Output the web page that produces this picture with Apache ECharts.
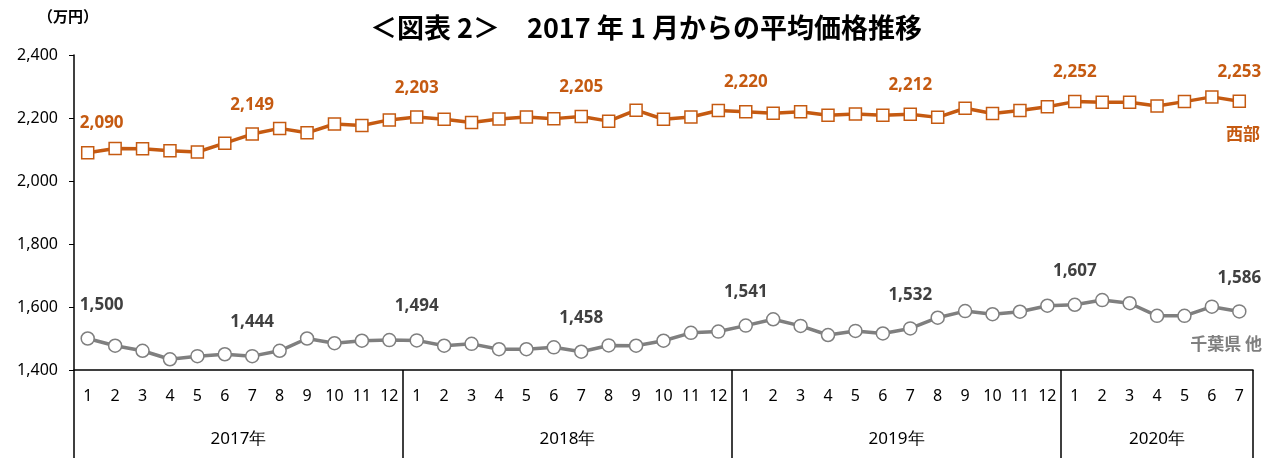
<!DOCTYPE html>
<html>
<head>
<meta charset="utf-8">
<script src="https://cdn.jsdelivr.net/npm/echarts@6/dist/echarts.min.js"></script>
<style>
  html, body { margin: 0; padding: 0; background: #fff; }
  #chart { width: 1288px; height: 458px; }
</style>
</head>
<body>
<div id="chart"></div>
<script>
// 月 (2017年1月〜2020年7月)
var months = [1,2,3,4,5,6,7,8,9,10,11,12, 1,2,3,4,5,6,7,8,9,10,11,12,
              1,2,3,4,5,6,7,8,9,10,11,12, 1,2,3,4,5,6,7];
var years = ['2017年', '2018年', '2019年', '2020年'];
var yearCounts = [12, 12, 12, 7];

// 西部
var seibu = [2090,2103,2102,2096,2092,2120,2149,2167,2153,2181,2176,2194,
             2203,2196,2186,2197,2203,2198,2205,2190,2225,2196,2203,2224,
             2220,2215,2220,2209,2213,2209,2212,2202,2231,2214,2224,2236,
             2252,2250,2250,2238,2252,2267,2253];
// 千葉県 他
var chiba = [1500,1477,1461,1434,1444,1450,1444,1461,1500,1485,1493,1495,
             1494,1477,1483,1466,1466,1472,1458,1478,1477,1493,1518,1522,
             1541,1561,1540,1511,1524,1516,1532,1566,1587,1577,1585,1604,
             1607,1622,1612,1572,1572,1601,1586];

var yTicks = [1400, 1600, 1800, 2000, 2200, 2400];

var orange = '#C55A11';
var gray = '#7F7F7F';

// 年の境界と中央位置
var bounds = [0], mids = [];
yearCounts.forEach(function (n, i) {
    mids.push(bounds[i] + n / 2);
    bounds.push(bounds[i] + n);
});

function fmt(v) {
    return String(v).replace(/\B(?=(\d{3})+(?!\d))/g, ',');
}

function withLabels(arr) {
    return arr.map(function (v, i) {
        if (i % 6 !== 0) return v;
        return {
            value: v,
            label: {
                show: true,
                offset: i === 0 ? [14, 0] : [0, 0]
            }
        };
    });
}

var chart = echarts.init(document.getElementById('chart'));

var option = {
    animation: false,
    textStyle: { fontFamily: 'Noto Sans' },
    title: {
        text: '＜図表 2＞　2017 年 1 月からの平均価格推移',
        left: 641,
        top: 9,
        textAlign: 'center',
        textStyle: {
            fontFamily: 'Noto Sans CJK JP',
            fontSize: 27,
            fontWeight: 'bold',
            color: '#000'
        }
    },
    graphic: [
        { type: 'text', left: 38, top: 9,
          style: { text: '（万円）', fontFamily: 'Noto Sans CJK JP', fontSize: 15, fontWeight: 'bold', fill: '#000' } },
        { type: 'text', right: 28, top: 125,
          style: { text: '西部', fontFamily: 'Noto Sans CJK JP', fontSize: 17, fontWeight: 'bold', fill: orange } },
        { type: 'text', right: 26, top: 335,
          style: { text: '千葉県 他', fontFamily: 'Noto Sans CJK JP', fontSize: 17, fontWeight: 'bold', fill: gray } }
    ],
    grid: {
        left: 74,
        right: 35,
        top: 55,
        bottom: 88
    },
    xAxis: [{
        type: 'category',
        data: months,
        boundaryGap: true,
        axisLine: { lineStyle: { color: '#000', width: 1.5 } },
        axisTick: { show: false },
        axisLabel: {
            interval: 0,
            color: '#000',
            fontSize: 16,
            margin: 18
        }
    }, {
        type: 'value',
        min: 0,
        max: bounds[bounds.length - 1],
        position: 'bottom',
        axisLine: { show: false },
        splitLine: { show: false },
        axisTick: {
            show: true,
            customValues: bounds,
            length: 88,
            lineStyle: { color: '#000', width: 1.5 }
        },
        axisLabel: {
            customValues: mids,
            color: '#000',
            fontSize: 17,
            margin: 61,
            formatter: function (v) {
                var idx = mids.indexOf(v);
                return idx >= 0 ? years[idx] : '';
            }
        }
    }],
    yAxis: {
        type: 'value',
        min: yTicks[0],
        max: yTicks[yTicks.length - 1],
        interval: 200,
        splitLine: { show: false },
        axisLine: { show: true, lineStyle: { color: '#000', width: 1.5 } },
        axisTick: { show: true, length: 5, lineStyle: { color: '#000' } },
        axisLabel: {
            color: '#000',
            fontSize: 16,
            margin: 16,
            formatter: fmt
        }
    },
    series: [{
        name: '西部',
        type: 'line',
        data: withLabels(seibu),
        symbol: 'rect',
        symbolSize: 12,
        lineStyle: { color: orange, width: 3.5 },
        itemStyle: { color: '#fff', borderColor: orange, borderWidth: 1.5 },
        label: {
            show: false,
            position: 'top',
            distance: 14,
            color: orange,
            fontSize: 17,
            fontWeight: 'bold',
            formatter: function (p) { return fmt(p.value); }
        },
        z: 3
    }, {
        name: '千葉県 他',
        type: 'line',
        data: withLabels(chiba),
        symbol: 'circle',
        symbolSize: 13,
        lineStyle: { color: gray, width: 3.5 },
        itemStyle: { color: '#fff', borderColor: gray, borderWidth: 1.5 },
        label: {
            show: false,
            position: 'top',
            distance: 18,
            color: '#404040',
            fontSize: 17,
            fontWeight: 'bold',
            formatter: function (p) { return fmt(p.value); }
        },
        z: 2
    }]
};

chart.setOption(option);
</script>
</body>
</html>
